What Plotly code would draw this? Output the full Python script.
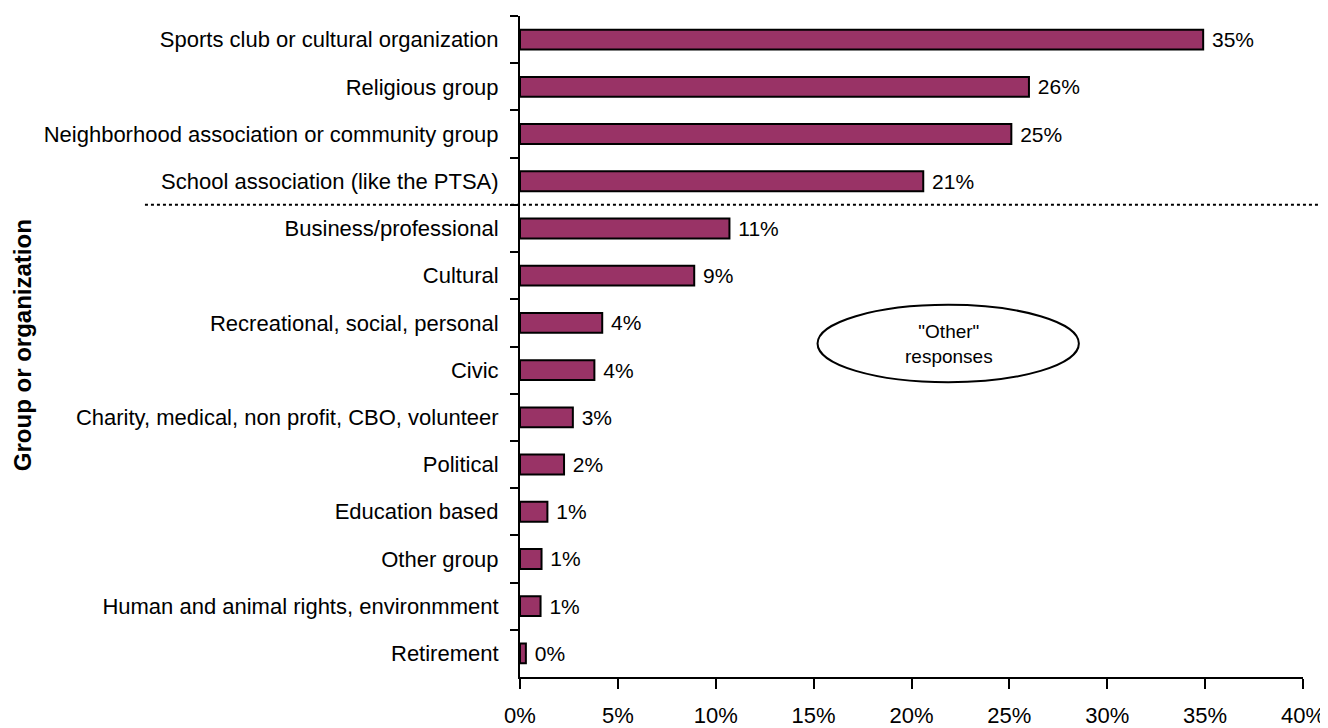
import plotly.graph_objects as go

categories = [
    "Sports club or cultural organization",
    "Religious group",
    "Neighborhood association or community group",
    "School association (like the PTSA)",
    "Business/professional",
    "Cultural",
    "Recreational, social, personal",
    "Civic",
    "Charity, medical, non profit, CBO, volunteer",
    "Political",
    "Education based",
    "Other group",
    "Human and animal rights, environmment",
    "Retirement",
]
values = [34.9, 26.0, 25.1, 20.6, 10.7, 8.9, 4.2, 3.8, 2.7, 2.25, 1.4, 1.1, 1.05, 0.3]
labels = ["35%", "26%", "25%", "21%", "11%", "9%", "4%", "4%", "3%", "2%", "1%", "1%", "1%", "0%"]
x_ticks = [0, 5, 10, 15, 20, 25, 30, 35, 40]
x_tick_text = ["0%", "5%", "10%", "15%", "20%", "25%", "30%", "35%", "40%"]

FONT = "Liberation Sans, Arial, sans-serif"

fig = go.Figure(
    go.Bar(
        x=values,
        y=categories,
        orientation="h",
        marker=dict(color="#993366", line=dict(color="black", width=2)),
        text=labels,
        texttemplate=" %{text}",
        textposition="outside",
        constraintext="none",
        textfont=dict(family=FONT, size=21, color="black"),
        cliponaxis=False,
    )
)

fig.update_layout(
    width=1320,
    height=720,
    margin=dict(l=512, r=25, t=8, b=51),
    paper_bgcolor="white",
    plot_bgcolor="white",
    bargap=0.58,
    showlegend=False,
    font=dict(family=FONT, size=22, color="black"),
)

fig.update_xaxes(
    range=[0, 40],
    tickvals=x_ticks,
    ticktext=x_tick_text,
    showgrid=False,
    zeroline=False,
    showline=True,
    linecolor="black",
    linewidth=2,
    ticks="outside",
    ticklen=10,
    tickwidth=2,
    tickcolor="black",
    ticklabelstandoff=8,
    automargin=False,
    tickfont=dict(family=FONT, size=22, color="black"),
)

fig.update_yaxes(
    autorange="reversed",
    type="category",
    tickson="boundaries",
    showgrid=False,
    zeroline=False,
    showline=True,
    linecolor="black",
    linewidth=2,
    ticks="outside",
    ticklen=8,
    tickwidth=2,
    tickcolor="black",
    ticklabelstandoff=15,
    automargin=False,
    tickfont=dict(family=FONT, size=22, color="black"),
)

# y-axis title
fig.add_annotation(
    text="<b>Group or organization</b>",
    xref="paper",
    yref="paper",
    x=-0.636,
    y=0.502,
    xanchor="center",
    yanchor="middle",
    textangle=-90,
    showarrow=False,
    font=dict(family=FONT, size=24, color="black"),
)

# dotted separator between main and "Other" responses
fig.add_shape(
    type="line",
    xref="x domain",
    yref="y",
    x0=-0.479,
    x1=1.04,
    y0=3.5,
    y1=3.5,
    line=dict(color="black", width=2, dash="dot"),
)

# ellipse annotation
fig.add_shape(
    type="circle",
    xref="x",
    yref="y domain",
    x0=15.2,
    x1=28.55,
    y0=0.446,
    y1=0.563,
    line=dict(color="black", width=2),
    fillcolor="rgba(0,0,0,0)",
)
fig.add_annotation(
    x=21.9,
    xref="x",
    y=0.5045,
    yref="y domain",
    text="\"Other\"<br>responses",
    showarrow=False,
    font=dict(family=FONT, size=19, color="black"),
    align="center",
)

fig.write_html("out.html")
